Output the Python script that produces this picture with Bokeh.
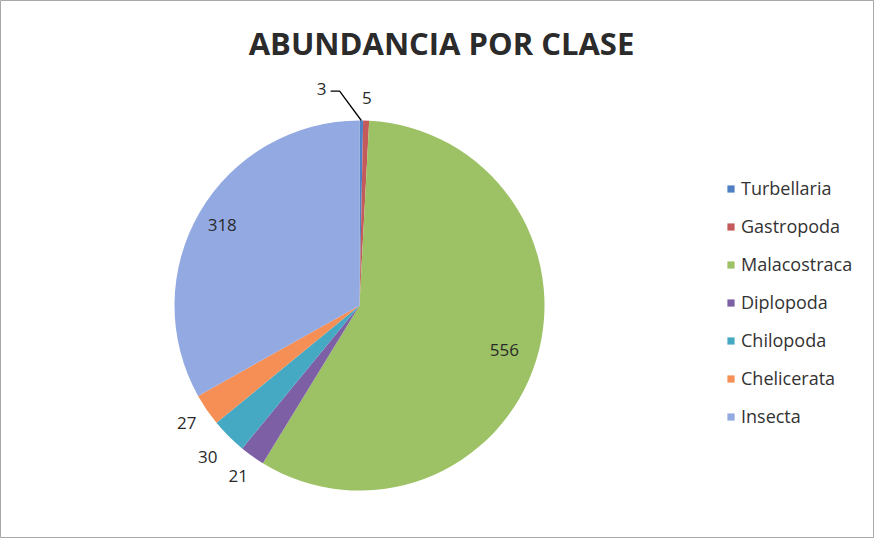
import math
from bokeh.plotting import figure
from bokeh.models import Range1d, ColumnDataSource, Legend, LegendItem, Label
from bokeh.core.properties import value
from bokeh.embed import file_html
from bokeh.resources import INLINE

categories = ["Turbellaria", "Gastropoda", "Malacostraca", "Diplopoda", "Chilopoda", "Chelicerata", "Insecta"]
counts = [3, 5, 556, 21, 30, 27, 318]
colors = ["#4F7FC4", "#C45A5A", "#9DC165", "#7D5FA6", "#45A9C4", "#F58F55", "#93A9E2"]

W, H = 874, 538
cx, cy, R = 359, H - 305, 185

p = figure(width=W, height=H, x_range=Range1d(0, W), y_range=Range1d(0, H),
           min_border=0, toolbar_location=None, output_backend="svg")
p.axis.visible = False
p.grid.visible = False
p.outline_line_color = "#a8a8a8"
p.outline_line_width = 1
p.background_fill_color = "white"

total = sum(counts)
starts, ends, mids = [], [], []
cum = 0
for c in counts:
    a0 = math.pi / 2 - 2 * math.pi * cum / total
    cum += c
    a1 = math.pi / 2 - 2 * math.pi * cum / total
    starts.append(a0)
    ends.append(a1)
    mids.append((a0 + a1) / 2)

src = ColumnDataSource(dict(cat=categories, val=counts, start=starts, end=ends, color=colors))
r = p.wedge(x=cx, y=cy, radius=R, start_angle="start", end_angle="end", direction="clock",
            fill_color="color", line_color=None, source=src)

# data labels
factors = [1.17, 1.12, 0.82, 1.13, 1.16, 1.13, 0.86]
lx, ly, txt = [], [], []
for i, (m, f, c) in enumerate(zip(mids, factors, counts)):
    x = cx + f * R * math.cos(m)
    y = cy + f * R * math.sin(m)
    if i == 0:
        x -= 40
    lx.append(x)
    ly.append(y)
    txt.append(str(c))
p.text(x=lx, y=ly, text=txt, text_align="center", text_baseline="middle",
       text_font=value("Open Sans"), text_font_size="17px", text_color="#2a2a2a")

# leader line for the smallest slice
ex = cx + R * math.cos(mids[0])
ey = cy + R * math.sin(mids[0])
p.line(x=[lx[0] + 9, lx[0] + 18, ex], y=[ly[0] - 2, ly[0] - 2, ey], line_color="black", line_width=1.3)

# title
p.add_layout(Label(x=441, y=H - 42, x_units="screen", y_units="screen", text="ABUNDANCIA POR CLASE",
                   text_align="center", text_baseline="middle", text_font="Open Sans",
                   text_font_style="bold", text_font_size="31px", text_color="#2b2b2b"))

items = [LegendItem(label=c, renderers=[r], index=i) for i, c in enumerate(categories)]
legend = Legend(items=items, location=(726, 110), orientation="vertical",
                glyph_width=9, glyph_height=9, label_height=20, spacing=14,
                label_text_font="Open Sans", label_text_font_size="18px", label_text_color="#333333",
                border_line_color=None, background_fill_alpha=0, padding=0, margin=0,
                label_standoff=6)
p.add_layout(legend)

open("out.html", "w").write(file_html(p, INLINE))
